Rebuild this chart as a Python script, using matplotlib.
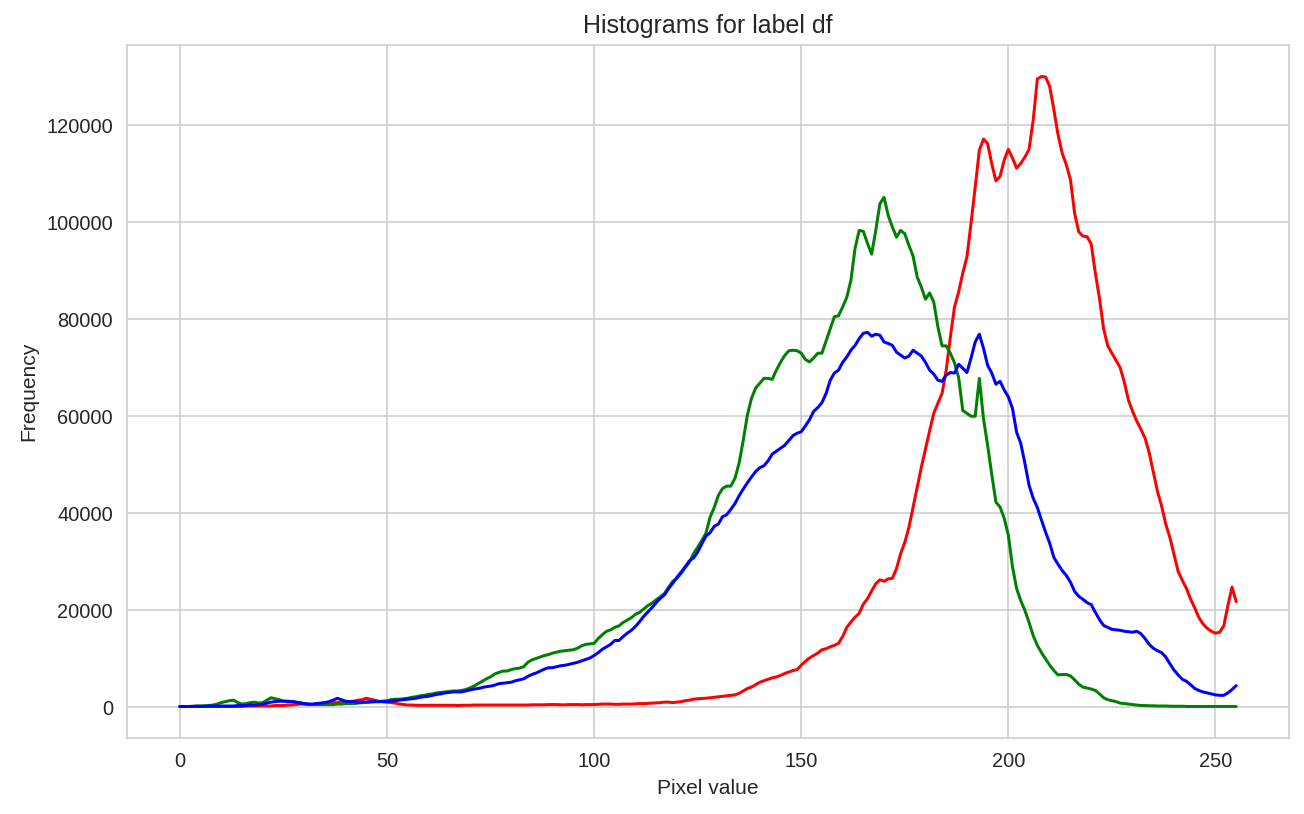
import matplotlib
matplotlib.use('Agg')
import matplotlib.pyplot as plt
import numpy as np
import seaborn as sns

# valores en miles de pixeles (10 por fila)
red = [
    .2, .2, .2, .2, .2, .2, .2, .2, .2, .2,
    .2, .2, .2, .2, .2, .2, .3, .3, .3, .3,
    .3, .3, .3, .4, .4, .4, .5, .5, .6, .7,
    .7, .6, .6, .7, .8, .9, 1.0, 1.0, 1.0, 1.1,
    1.1, 1.2, 1.3, 1.5, 1.6, 1.9, 1.7, 1.5, 1.3, 1.2,
    1.1, 1.0, .9, .7, .6, .5, .5, .45, .45, .45,
    .45, .45, .45, .45, .45, .45, .45, .4, .45, .45,
    .45, .5, .5, .5, .5, .5, .5, .5, .5, .5,
    .5, .5, .5, .5, .5, .55, .55, .55, .55, .6,
    .6, .6, .55, .55, .6, .6, .6, .55, .6, .6,
    .6, .65, .7, .7, .7, .65, .65, .7, .7, .7,
    .75, .8, .8, .85, .9, .95, 1.0, 1.1, 1.1, 1.0,
    1.1, 1.2, 1.4, 1.5, 1.7, 1.8, 1.85, 1.9, 2.0, 2.1,
    2.2, 2.3, 2.4, 2.5, 2.6, 2.9, 3.4, 3.9, 4.2, 4.7,
    5.2, 5.5, 5.8, 6.1, 6.3, 6.6, 7.0, 7.3, 7.6, 7.8,
    8.7, 9.5, 10.2, 10.7, 11.2, 11.9, 12.1, 12.5, 12.8, 13.2,
    14.6, 16.5, 17.6, 18.6, 19.4, 21.3, 22.4, 24.0, 25.5, 26.3,
    26.0, 26.5, 26.6, 28.6, 31.7, 34.0, 37.1, 41.2, 45.4, 49.5,
    53.3, 57.0, 60.6, 62.7, 64.7, 69.5, 76.3, 82.5, 85.6, 89.5,
    92.8, 99.8, 107.2, 114.8, 117.1, 116.2, 112.0, 108.5, 109.4, 112.8,
    115.0, 113.2, 111.1, 112.1, 113.4, 115.0, 121.0, 129.5, 130.0, 129.9,
    127.9, 123.1, 118.0, 114.2, 111.8, 108.7, 101.8, 98.0, 97.1, 97.0,
    95.5, 89.5, 84.3, 78.0, 74.5, 73.0, 71.5, 70.0, 67.0, 63.3,
    61.0, 59.0, 57.3, 55.5, 52.5, 48.5, 44.5, 41.5, 37.8, 35.0,
    31.5, 28.0, 26.2, 24.5, 22.3, 20.5, 18.5, 17.2, 16.3, 15.7,
    15.3, 15.5, 16.8, 21.0, 24.8, 21.8,
]
green = [
    .2, .2, .2, .25, .3, .3, .35, .4, .5, .7,
    1.0, 1.2, 1.4, 1.5, 1.0, .7, .8, 1.0, 1.1, .9,
    1.0, 1.5, 2.0, 1.8, 1.6, 1.3, 1.2, 1.2, 1.1, 1.0,
    .8, .7, .6, .6, .6, .6, .6, .6, .7, .7,
    .8, .8, .8, .9, 1.0, 1.1, 1.1, 1.2, 1.2, 1.3,
    1.4, 1.6, 1.7, 1.7, 1.8, 1.9, 2.1, 2.2, 2.4, 2.5,
    2.7, 2.8, 3.0, 3.1, 3.2, 3.3, 3.4, 3.4, 3.5, 3.7,
    4.0, 4.4, 4.9, 5.4, 5.9, 6.3, 6.9, 7.2, 7.5, 7.5,
    7.8, 8.0, 8.1, 8.4, 9.3, 9.8, 10.1, 10.4, 10.7, 10.9,
    11.2, 11.4, 11.6, 11.7, 11.8, 11.9, 12.2, 12.7, 13.0, 13.1,
    13.2, 14.2, 15.0, 15.7, 16.0, 16.5, 16.8, 17.5, 18.0, 18.5,
    19.2, 19.6, 20.3, 21.0, 21.5, 22.2, 22.8, 23.5, 24.8, 26.0,
    26.6, 27.6, 28.8, 29.9, 31.7, 33.0, 34.4, 35.9, 39.2, 41.2,
    43.7, 45.1, 45.6, 45.6, 47.2, 50.3, 55.0, 60.2, 63.7, 65.8,
    66.8, 67.8, 67.8, 67.6, 69.5, 71.1, 72.5, 73.5, 73.6, 73.5,
    73.0, 71.7, 71.2, 72.0, 73.0, 73.0, 75.5, 78.0, 80.5, 80.7,
    82.5, 84.5, 88.0, 94.6, 98.3, 98.1, 95.6, 93.4, 98.3, 103.8,
    105.1, 101.4, 99.0, 96.9, 98.3, 97.6, 95.2, 93.0, 88.7, 86.6,
    84.1, 85.4, 83.5, 78.4, 74.5, 74.5, 73.0, 71.0, 68.0, 61.2,
    60.6, 60.0, 60.0, 67.8, 59.5, 54.0, 48.0, 42.3, 41.3, 39.0,
    35.5, 29.0, 24.5, 22.0, 20.0, 17.5, 14.8, 12.8, 11.3, 10.0,
    8.7, 7.6, 6.7, 6.8, 6.8, 6.5, 5.7, 4.8, 4.2, 4.0,
    3.8, 3.5, 2.8, 2.0, 1.6, 1.4, 1.2, .9, .8, .7,
    .6, .5, .4, .4, .35, .35, .3, .3, .3, .25,
    .25, .25, .25, .2, .2, .2, .2, .2, .2, .2,
    .2, .2, .2, .2, .2, .2,
]
blue = [
    .2, .2, .2, .2, .25, .25, .25, .3, .3, .3,
    .3, .3, .3, .3, .4, .4, .4, .5, .5, .6,
    .7, .9, 1.1, 1.2, 1.3, 1.3, 1.3, 1.2, 1.1, .9,
    .8, .7, .7, .8, .9, 1.0, 1.2, 1.5, 1.9, 1.6,
    1.3, 1.2, 1.2, 1.1, 1.1, 1.1, 1.2, 1.2, 1.2, 1.2,
    1.2, 1.3, 1.4, 1.5, 1.6, 1.7, 1.8, 1.9, 2.1, 2.2,
    2.3, 2.5, 2.7, 2.8, 3.0, 3.1, 3.2, 3.2, 3.2, 3.4,
    3.6, 3.8, 3.9, 4.1, 4.3, 4.4, 4.6, 4.9, 5.0, 5.1,
    5.2, 5.5, 5.7, 5.9, 6.4, 6.8, 7.1, 7.5, 7.9, 8.2,
    8.2, 8.4, 8.6, 8.7, 8.9, 9.1, 9.3, 9.6, 9.9, 10.2,
    10.7, 11.3, 12.0, 12.5, 13.0, 13.8, 13.8, 14.6, 15.3, 15.9,
    16.7, 17.7, 18.8, 19.7, 20.6, 21.6, 22.5, 23.2, 24.5, 25.6,
    26.8, 27.9, 29.0, 30.2, 30.8, 32.0, 33.7, 35.3, 36.0, 37.3,
    37.8, 39.3, 39.7, 40.8, 42.0, 43.6, 45.0, 46.3, 47.5, 48.6,
    49.4, 49.8, 50.8, 52.2, 52.8, 53.4, 54.0, 55.0, 56.0, 56.5,
    56.8, 58.0, 59.3, 61.0, 61.8, 62.8, 64.7, 67.4, 68.9, 69.5,
    71.1, 72.2, 73.6, 74.6, 76.0, 77.1, 77.3, 76.5, 76.9, 76.7,
    75.3, 75.0, 74.6, 73.2, 72.6, 72.0, 72.4, 73.6, 73.0, 72.4,
    71.1, 69.5, 68.7, 67.4, 67.2, 68.5, 69.0, 68.9, 70.7, 69.9,
    69.0, 72.0, 75.3, 76.9, 74.0, 70.5, 68.9, 66.6, 67.2, 65.4,
    64.0, 61.6, 56.7, 54.4, 50.3, 45.8, 43.1, 41.2, 38.6, 36.1,
    33.8, 30.9, 29.5, 28.2, 27.2, 25.8, 23.9, 22.9, 22.3, 21.6,
    21.2, 19.6, 18.1, 16.9, 16.5, 16.1, 16.0, 15.9, 15.7, 15.6,
    15.5, 15.7, 15.2, 14.2, 13.0, 12.2, 11.7, 11.3, 10.4, 9.0,
    7.7, 6.7, 5.8, 5.4, 4.7, 3.9, 3.5, 3.2, 3.0, 2.8,
    2.6, 2.5, 2.5, 3.0, 3.7, 4.5,
]

sns.set_style('whitegrid')
plt.rcParams['font.family'] = ['Liberation Sans', 'DejaVu Sans']

x = np.arange(256)

fig = plt.figure(figsize=(1304 / 144, 814 / 144), dpi=144)
ax = fig.add_axes([127 / 1304, 1 - 738 / 814, 1162 / 1304, 693 / 814])
for serie, color in [(red, 'red'), (green, 'green'), (blue, 'blue')]:
    ax.plot(x, np.array(serie) * 1000, color=color, linewidth=1.5)

ax.set_title('Histograms for label df', fontsize=12.5)
ax.set_xlabel('Pixel value', fontsize=10.5)
ax.set_ylabel('Frequency', fontsize=10.5)
ax.tick_params(labelsize=10)

fig.savefig('out.png', dpi=144)
